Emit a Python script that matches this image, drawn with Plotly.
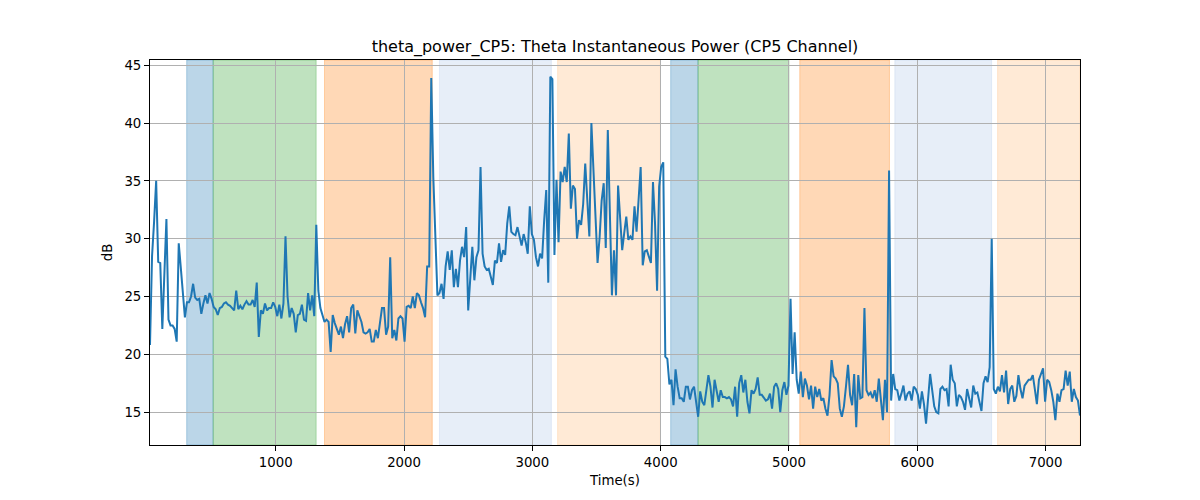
import plotly.graph_objects as go

# ---- data ----
time_start = 20      # s, first sample
time_step = 16       # s, sampling interval

power_db = [
    20.8, 28.5, 31.5, 35.0, 28.0, 27.9, 22.2, 26.5, 31.7, 23.0,
    22.5, 22.5, 22.2, 21.1, 29.6, 27.5, 25.0, 23.2, 24.5, 24.5,
    25.0, 26.1, 24.9, 24.7, 24.8, 23.5, 24.4, 25.1, 24.4, 25.3,
    24.8, 24.1, 23.9, 23.4, 24.0, 24.1, 24.4, 24.5, 24.3, 24.2,
    24.0, 23.8, 25.5, 23.9, 24.2, 23.9, 24.3, 24.6, 24.3, 24.3,
    24.7, 24.1, 26.2, 21.5, 23.8, 23.5, 24.4,
    23.8, 24.0, 24.0,
    24.5, 24.1, 23.3, 24.3, 23.1, 24.4, 30.2, 25.0, 23.2, 24.0,
    23.5, 21.9, 23.4, 23.5, 24.3, 23.0, 22.9, 25.3, 23.8, 25.1,
    23.3, 31.2, 25.5, 24.0, 23.4, 22.8, 23.0, 22.8, 20.2, 23.4,
    22.7, 22.1, 21.7, 22.4, 21.4, 22.6, 23.3, 21.9, 24.0, 24.3,
    21.8, 23.8, 23.2, 22.8, 21.9, 21.8, 21.9, 22.2, 21.1, 21.1,
    22.1, 21.4, 22.7, 24.0, 24.0,
    21.7, 22.4, 28.4, 21.4, 22.1,
    21.2, 23.1, 23.3, 23.1, 21.1, 24.1, 24.2, 24.0, 25.0, 24.0,
    25.3, 25.1, 24.5, 24.0, 23.2, 27.6, 27.6, 43.9, 35.3, 29.9,
    25.1, 25.3, 26.1, 24.8, 27.6, 28.9, 27.3, 29.0, 25.8, 27.4,
    25.8, 28.1, 29.3, 28.4, 31.0, 23.8, 26.4, 29.3, 26.4, 28.4,
    29.0, 36.2, 28.7, 27.6, 27.3, 27.4, 26.7, 26.0, 28.1, 27.9,
    29.6, 28.0,
    29.0, 28.6, 31.3, 32.8, 30.6, 30.4, 30.3, 31.0,
    30.2, 29.4, 30.4, 29.7, 28.7, 32.8, 30.4, 29.9, 28.4, 27.6,
    28.7, 28.3, 31.6, 34.2, 26.2, 44.0, 43.8, 28.6, 35.1, 29.7,
    35.8, 34.9, 36.2, 34.9, 39.1, 32.6, 34.6, 34.3, 30.0, 31.6,
    31.2, 33.0, 36.5, 33.3, 30.2, 40.0, 35.6, 30.7, 27.9, 30.1,
    33.3, 34.8, 29.2, 39.4, 31.9, 25.1, 29.0, 25.1, 34.6,
    31.5,
    29.0, 30.5, 31.9, 29.9, 30.2, 29.9, 32.8, 30.6, 33.0, 36.2,
    27.7, 28.9, 29.0, 28.5, 27.9, 34.9, 31.3, 25.5, 34.5, 36.2,
    36.6, 19.8, 19.6,
    17.4, 17.8, 15.6, 18.7, 17.2, 16.2, 16.2,
    15.9, 17.2, 17.2, 16.1, 16.9, 17.2, 15.7, 14.6, 16.8, 15.9,
    15.6, 16.9, 18.2, 17.2, 15.4, 17.8, 16.7, 15.9, 16.9, 16.3,
    16.3, 16.2, 16.3, 16.1, 15.5, 17.2, 14.6, 17.5, 18.2, 16.7,
    17.8, 15.9, 14.9, 16.9, 16.6, 17.0, 18.0, 16.5,
    16.5, 16.2,
    16.0, 16.1, 16.6, 15.3, 17.2, 17.5, 17.0, 15.0, 16.9, 17.6,
    16.5, 17.3, 24.8, 18.3, 21.9, 17.8, 16.6, 18.5, 16.3, 17.9,
    17.3, 16.1, 17.3, 15.3, 17.2, 16.3, 17.0, 16.0, 16.2, 15.3,
    14.7, 16.5, 19.5, 18.1, 17.9, 17.5, 15.3, 14.6, 15.5, 17.2,
    19.1, 16.5, 15.6,
    18.3, 13.7, 18.2, 16.2, 16.3, 24.0, 16.9,
    16.5, 16.7, 16.2, 16.9, 15.9, 17.9, 15.9, 14.3, 17.8, 15.0,
    35.9, 16.0, 18.3, 17.0, 16.9, 16.0, 16.6, 17.3, 16.0, 16.6,
    16.8, 16.0, 17.2, 17.0, 16.5, 15.3, 16.8, 15.7, 14.0, 16.0,
    18.3, 16.9, 15.5, 15.0, 14.9, 17.0, 17.2, 16.9, 17.0, 15.5,
    19.1, 17.8, 17.5, 15.5, 16.5, 16.3, 15.9, 15.2, 17.0, 16.2,
    15.4, 17.3, 16.6, 16.7, 15.8, 15.1, 17.5, 18.1, 17.6, 18.9,
    30.0, 17.0, 16.6, 17.2, 16.8, 18.2, 16.7, 18.6, 15.7, 17.0,
    17.3, 15.9, 16.4, 18.2, 17.0, 16.2, 17.3, 17.6, 17.8, 17.8,
    18.2, 17.0, 15.7, 17.8, 18.3, 18.8, 15.9, 17.8, 17.6, 16.9,
    15.9, 14.3, 16.6, 15.9, 16.9, 17.0, 18.6, 17.3, 18.5, 15.9,
    17.0, 16.3, 16.0, 14.7,
]

times = [time_start + time_step * i for i in range(len(power_db))]

# shaded phases (start s, end s, kind)
span_starts = [306, 512, 1380, 2276, 3197, 4078, 4291, 5084, 5825, 6626]
span_ends   = [512, 1315, 2220, 3148, 3998, 4291, 5000, 5783, 6579, 7268]
span_kinds  = ["a", "b", "c", "d", "e", "a", "b", "c", "d", "e"]

x_ticks = [1000, 2000, 3000, 4000, 5000, 6000, 7000]
y_ticks = [15, 20, 25, 30, 35, 40, 45]

# ---- styles ----
kind_colors = {
    "a": "rgba(31,119,180,0.3)",
    "b": "rgba(44,160,44,0.3)",
    "c": "rgba(255,127,14,0.3)",
    "d": "rgba(174,199,232,0.3)",
    "e": "rgba(255,187,120,0.3)",
}
FONT = "DejaVu Sans"

fig = go.Figure()

for s, e, k in zip(span_starts, span_ends, span_kinds):
    fig.add_shape(type="rect", xref="x", yref="paper", x0=s, x1=e, y0=0, y1=1,
                  fillcolor=kind_colors[k], line=dict(color=kind_colors[k], width=1),
                  layer="below")

fig.add_trace(go.Scatter(x=times, y=power_db, mode="lines",
                         line=dict(color="#1f77b4", width=2), showlegend=False))

axis_common = dict(
    showgrid=True, gridcolor="#b0b0b0", gridwidth=0.8,
    showline=True, linecolor="black", linewidth=1, mirror=True,
    ticks="outside", ticklen=5, tickwidth=1, tickcolor="black",
    zeroline=False, tickfont=dict(family=FONT, size=13.3, color="black"),
)

fig.update_layout(
    width=1200, height=500,
    margin=dict(l=150, r=120, t=60, b=55),
    paper_bgcolor="white", plot_bgcolor="white",
    font=dict(family=FONT, color="black"),
    title=dict(text="theta_power_CP5: Theta Instantaneous Power (CP5 Channel)",
               x=0.5, xref="paper", xanchor="center",
               y=1 - 46 / 500, yref="container", yanchor="middle",
               font=dict(family=FONT, size=16, color="black")),
    xaxis=dict(range=[time_start, time_start + time_step * (len(power_db) - 1)],
               tickvals=x_ticks,
               title=dict(text="Time(s)", font=dict(family=FONT, size=13.3), standoff=6),
               **axis_common),
    yaxis=dict(range=[12.16, 45.45], tickvals=y_ticks,
               title=dict(text="dB", font=dict(family=FONT, size=13.3), standoff=8),
               **axis_common),
)

fig.write_html("out.html")
